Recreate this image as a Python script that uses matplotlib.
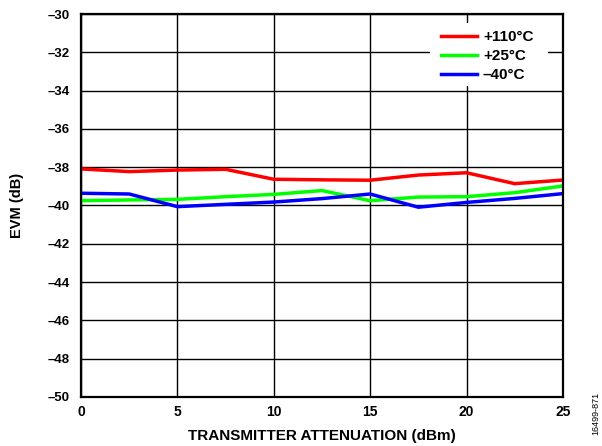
import numpy as np
import matplotlib
matplotlib.use("Agg")
import matplotlib.pyplot as plt
from matplotlib.patches import Rectangle

plt.rcParams['font.family'] = ['Liberation Sans', 'DejaVu Sans']
plt.rcParams['font.weight'] = 'bold'

# transmitter attenuation (dBm)
atten = [0, 2.5, 5, 7.5, 10, 12.5, 15, 17.5, 20, 22.5, 25]

# EVM (dB) per temperature
evm_110 = [-38.09, -38.23, -38.15, -38.11, -38.63, -38.66, -38.68, -38.41, -38.29, -38.86, -38.67]
evm_25 = [-39.75, -39.71, -39.68, -39.54, -39.42, -39.22, -39.75, -39.56, -39.54, -39.33, -38.98]
evm_m40 = [-39.36, -39.40, -40.06, -39.94, -39.82, -39.64, -39.40, -40.09, -39.84, -39.63, -39.38]

labels = ['+110°C', '+25°C', '\u201340°C']
colors = ['#ff0000', '#00ff00', '#0000ff']

fig = plt.figure(figsize=(6.02, 4.46), dpi=100)
ax = fig.add_axes((0.1346, 0.1099, 0.8004, 0.8587))

for ys, lab, c in zip([evm_110, evm_25, evm_m40], labels, colors):
    ax.plot(atten, ys, color=c, linewidth=2.5, label=lab)

ax.set_xlim(0, 25)
ax.set_ylim(-50, -30)
ax.set_xticks(np.arange(0, 26, 5))
ax.set_yticks(np.arange(-50, -29, 2))
ax.set_yticklabels(['\u2013%d' % abs(v) for v in np.arange(-50, -29, 2)])
ax.grid(True, color='black', linewidth=1)
ax.set_axisbelow(True)
ax.tick_params(axis='y', length=0, labelsize=9.5, pad=8)
ax.tick_params(axis='x', length=0, labelsize=10, pad=6)
for s in ax.spines.values():
    s.set_linewidth(1.6)

ax.set_xlabel('TRANSMITTER ATTENUATION (dBm)', fontsize=11, fontweight='bold')
ax.set_ylabel('EVM (dB)', fontsize=10.5, fontweight='bold')
ax.xaxis.set_label_coords(0.5, -0.102)
ax.xaxis.label.set_va('center')
ax.yaxis.set_label_coords(-0.133, 0.5)
ax.yaxis.label.set_va('center')

# white patch behind the legend
ax.add_patch(Rectangle((0.724, 0.812), 0.245, 0.165, transform=ax.transAxes,
                       facecolor='white', edgecolor='none', zorder=1.5))
leg = ax.legend(loc='upper left', bbox_to_anchor=(0.747, 0.958), frameon=False,
                fontsize=11, handlelength=2.35, handletextpad=0.4,
                labelspacing=0.32, borderpad=0, borderaxespad=0)
for t in leg.get_texts():
    t.set_fontweight('bold')

fig.text(0.99, 0.025, '16499-871', rotation=90, fontsize=6.5, fontweight='normal',
         ha='center', va='bottom')

fig.savefig('out.png', dpi=100)
